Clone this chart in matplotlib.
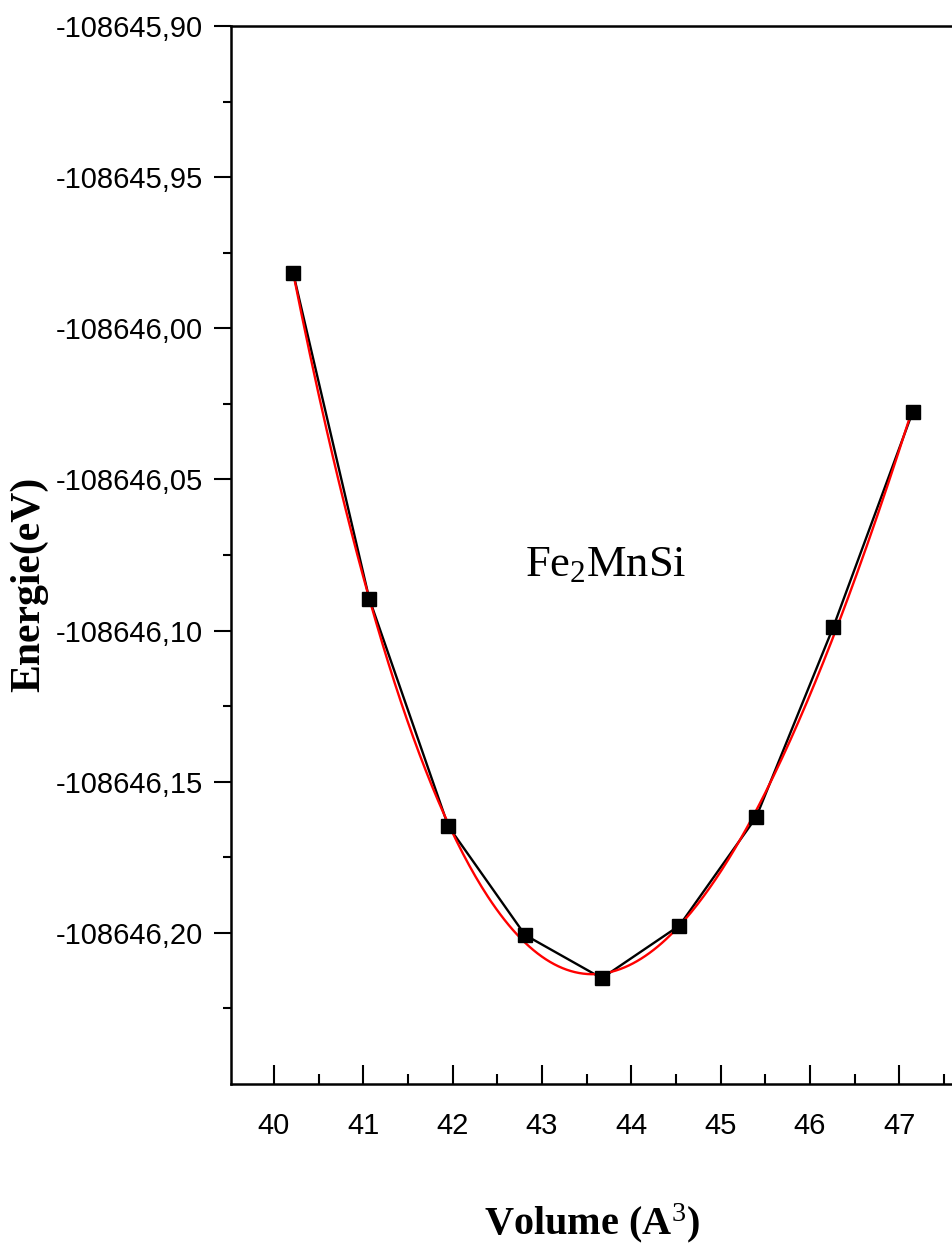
import matplotlib
matplotlib.use('Agg')
import matplotlib.pyplot as plt
import numpy as np
from matplotlib import font_manager
from matplotlib.ticker import MultipleLocator, FixedLocator, FuncFormatter

# E(V) points for Fe2MnSi
volume = [40.216, 41.067, 41.952, 42.811, 43.670, 44.539, 45.397, 46.263, 47.148]
energy = [-108645.9817, -108646.0894, -108646.1647, -108646.2007, -108646.2150,
          -108646.1976, -108646.1618, -108646.0987, -108646.0278]
energy_ticks = [-108645.90, -108645.95, -108646.00, -108646.05,
                -108646.10, -108646.15, -108646.20]
compound = 'Fe$_2$MnSi'

names = {f.name for f in font_manager.fontManager.ttflist}
if 'Liberation Sans Narrow' in names:
    tick_font, tick_size = 'Liberation Sans Narrow', 25
else:
    tick_font, tick_size = 'Liberation Sans', 21

plt.rcParams['mathtext.fontset'] = 'custom'
plt.rcParams['mathtext.rm'] = 'Liberation Serif'
plt.rcParams['mathtext.it'] = 'Liberation Serif:italic'
plt.rcParams['mathtext.bf'] = 'Liberation Serif:bold'

fig = plt.figure(figsize=(9.52, 12.54), dpi=100)
ax = fig.add_axes([231/952, 1 - 1084/1254, 1 - 231/952, (1084 - 26)/1254])

v = np.array(volume)
e = np.array(energy)

# cubic fit of the energy curve
v0 = v.mean()
e0 = e.mean()
coef = np.polyfit(v - v0, e - e0, 3)
vf = np.linspace(v.min(), v.max(), 300)
ef = np.polyval(coef, vf - v0) + e0

ax.plot(v, e, color='black', lw=1.7, zorder=2)
ax.plot(vf, ef, color='red', lw=1.7, zorder=3)
ax.plot(v, e, ls='none', marker='s', ms=9.5, color='black', zorder=4)

ax.set_xlim(39.52, 47.59)
ax.set_ylim(-108646.25, -108645.90)

ax.xaxis.set_major_locator(MultipleLocator(1))
ax.xaxis.set_minor_locator(MultipleLocator(0.5))
ax.yaxis.set_major_locator(FixedLocator(energy_ticks))
ax.yaxis.set_minor_locator(FixedLocator([t - 0.025 for t in energy_ticks]))
ax.yaxis.set_major_formatter(FuncFormatter(lambda y, p: f'{y:.2f}'.replace('.', ',')))

ax.tick_params(axis='x', which='major', direction='in', length=14, width=1.5, pad=20)
ax.tick_params(axis='x', which='minor', direction='in', length=7, width=1.5)
ax.tick_params(axis='y', which='major', direction='out', length=12, width=1.5, pad=8)
ax.tick_params(axis='y', which='minor', direction='out', length=6, width=1.5)
for lab in ax.get_xticklabels() + ax.get_yticklabels():
    lab.set_fontfamily(tick_font)
    lab.set_fontsize(tick_size)

ax.spines['right'].set_visible(False)
for s in ['left', 'bottom', 'top']:
    ax.spines[s].set_linewidth(1.8)

ax.set_xlabel('Volume (A$^{3}$)', fontfamily='Liberation Serif', fontweight='bold',
              fontsize=29, labelpad=44)
ax.set_ylabel('Energie(eV)', fontfamily='Liberation Serif', fontweight='bold',
              fontsize=30)
ax.yaxis.set_label_coords(-0.253, 0.472)

ax.text(43.71, -108646.082, compound, fontfamily='Liberation Serif', fontsize=32,
        ha='center', va='baseline')

fig.savefig('out.png', dpi=100)
